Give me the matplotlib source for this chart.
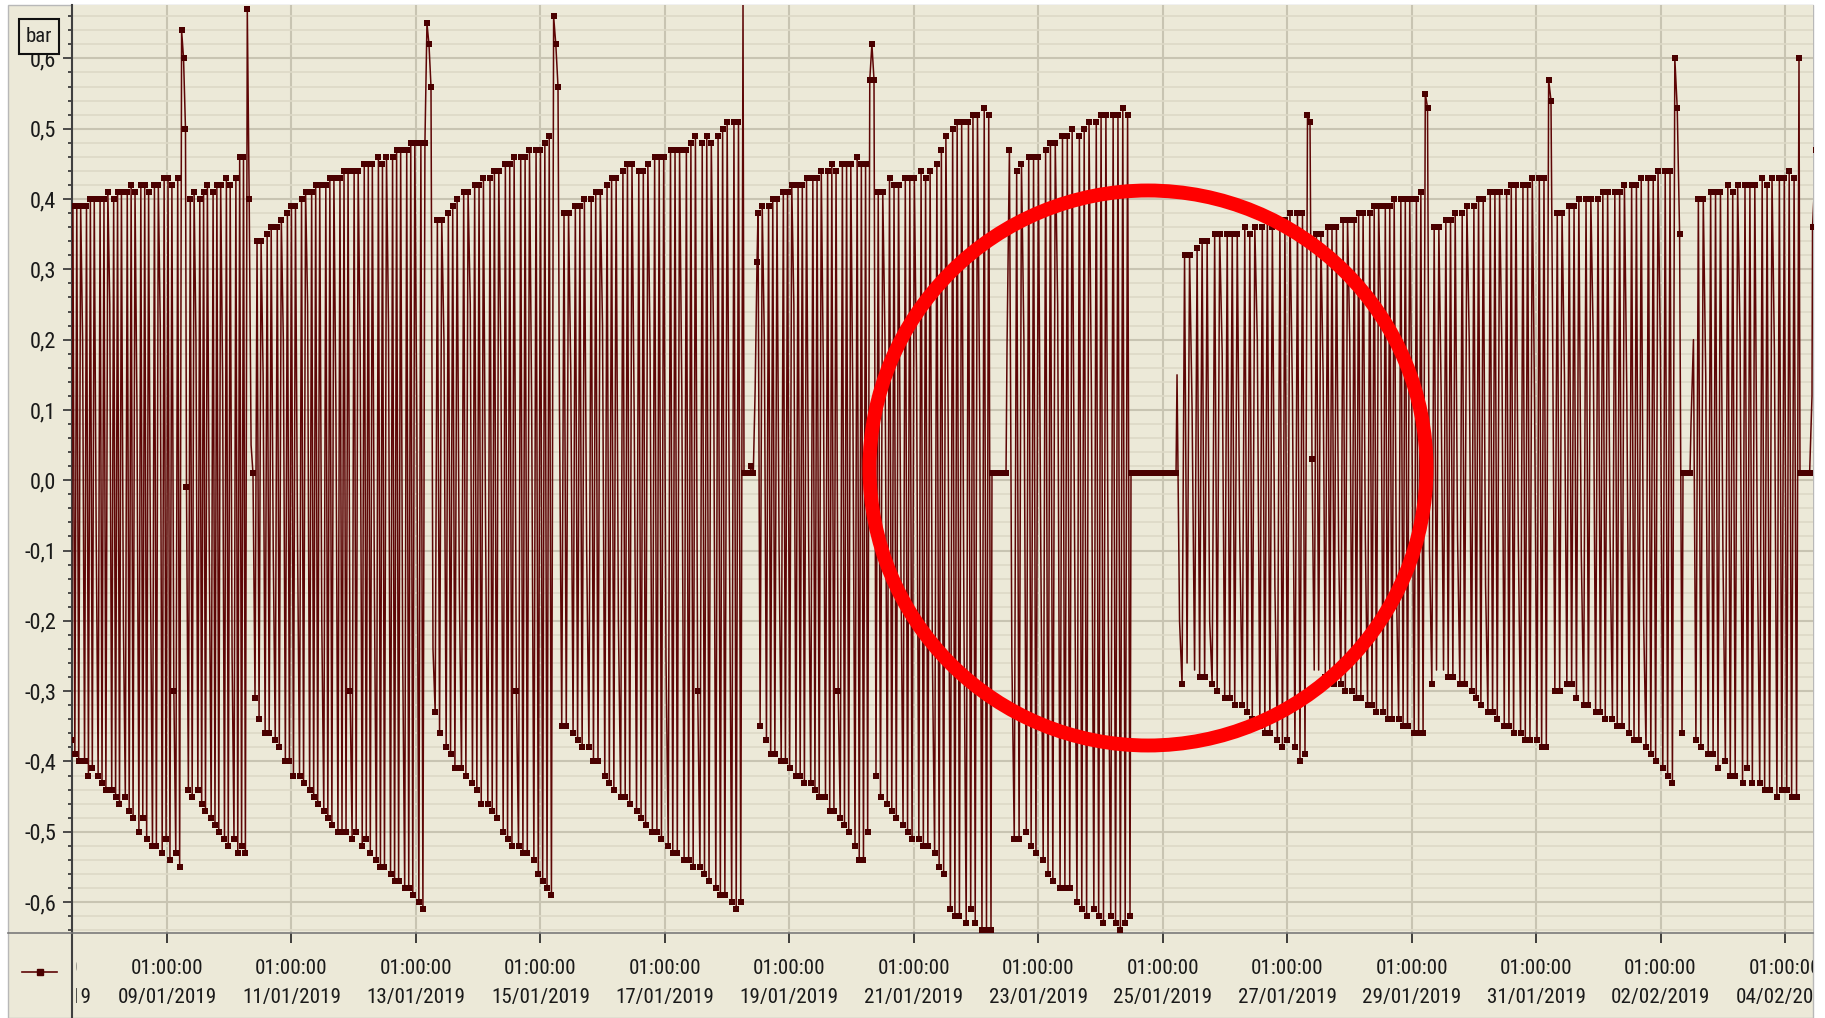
import os
import matplotlib
matplotlib.use('Agg')
import matplotlib.pyplot as plt
import matplotlib.dates as mdates
import matplotlib.font_manager as fm
from matplotlib.patches import Ellipse, Rectangle
from matplotlib.lines import Line2D
from matplotlib.textpath import TextPath
from matplotlib.ticker import MultipleLocator, FuncFormatter
from matplotlib.transforms import Bbox, TransformedBbox, blended_transform_factory
import numpy as np
import pandas as pd

# Pressure readings in 1/100 bar, one list per pump run / standstill (time order)
seg_a = [-37, 39, -39, 39, -40, 39, 20, -40, 39, -42, 40, -41, 40, -8, -42, 40, -43, 40, -44, 41, 25, -44,
         40, -45, 41, -46, 41, -20, -45, 41, -47, 42, -48, 41, 10, -50, 42, -48, 42, -51, 41, -15, -52, 42,
         -52, 42, 22, -53, 43, -51, 43, -54, 42, -30, -53, 43, -55, 64, 60, 50]
seg_b = [-1, -44, 40, -45, 41, 20, -44, 40, -46, 41, -47, 42, -10, -48, 41, -49, 42, -50, 42, 15, -51, 43,
         -52, 42, -25, -51, 43, -53, 46, -52, 46, -53, 67, 40, 5, 1]
seg_c = [-31, 34, -34, 34, 15, -36, 35, -36, 36, -10, -37, 36, -38, 37, 20, -40, 38, -40, 39, -42, 39, -8,
         -42, 40, -43, 41, 25, -44, 41, -45, 42, -46, 42, -20, -47, 42, -48, 43, -49, 43, 10, -50, 43, -50,
         44, -50, 44, -30, -51, 44, -50, 44, 18, -52, 45, -51, 45, -53, 45, -15, -54, 46, -55, 45, -55, 46,
         22, -56, 46, -57, 47, -57, 47, -25, -58, 47, -58, 48, -59, 48, 8, -60, 48, -61, 48, 65, 62, 56]
seg_d = [-24, -33, 37, -36, 37, 20, -38, 38, -39, 39, -41, 40, -15, -41, 41, -42, 41, 25, -43, 42, -44, 42,
         -46, 43, -8, -46, 43, -47, 44, -48, 44, 15, -50, 45, -51, 45, -52, 46, -30, -52, 46, -53, 46, -53,
         47, 10, -54, 47, -56, 47, -57, 48, -58, 49, -59, 66, 62, 56]
seg_e = [10, -35, 38, -35, 38, 15, -36, 39, -37, 39, -38, 40, -10, -38, 40, -40, 41, -40, 41, 22, -42, 42,
         -43, 43, -44, 43, -20, -45, 44, -45, 45, -46, 45, 8, -47, 44, -48, 44, -49, 45, 18, -50, 46, -50,
         46, -51, 46, -25, -52, 47, -53, 47, -53, 47, 12, -54, 47, -54, 48, -55, 49, -30, -55, 48, -56, 49,
         -57, 48, 20, -58, 49, -59, 50, -59, 51, -8, -60, 51, -61, 51, -60, 68]
plateau_1 = [1, 1, 1, 1, 2, 1, 13, 31]
seg_f = [38, -35, 39, 20, -37, 39, -39, 40, -39, 40, -10, -40, 41, -40, 41, -41, 42, 25, -42, 42, -42, 42,
         -43, 43, -8, -43, 43, -44, 43, -45, 44, 15, -45, 44, -47, 45, -47, 44, -30, -48, 45, -49, 45, -50,
         45, 10, -52, 46, -54, 45, -54, 45, -50, 57, 62, 57]
seg_g = [-42, 41, -45, 41, 20, -46, 43, -47, 42, -48, 42, -10, -49, 43, -50, 43, -51, 43, 15, -51, 44, -52,
         43, -52, 44, -25, -53, 45, -55, 47, -56, 49, 8, -61, 50, -62, 51, -62, 51, -20, -63, 51, -61, 52,
         -63, 52, 10, -64, 53, -64, 52, -64]
plateau_2 = [1, 1, 1, 1, 1, 1, 1, 1]
seg_h = [19, 47, -25, -51, 44, -51, 45, 20, -50, 46, -52, 46, -53, 46, -10, -54, 47, -56, 48, -57, 48, 25,
         -58, 49, -58, 49, -58, 50, -8, -60, 49, -61, 50, -62, 51, 12, -61, 51, -62, 52, -63, 52, -20, -62,
         52, -63, 52, -64, 53, -63, 52, -62]
plateau_3 = [1, 1, 1, 1, 1, 1, 1, 1, 1, 1, 1, 1, 1, 1, 1, 1, 1, 1]
seg_i = [15, -20, -29, 32, -26, 32, 10, -27, 33, -28, 34, -28, 34, -20, -29, 35, -30, 35, 18, -31, 35, -31,
         35, -32, 35, -8, -32, 36, -33, 35, -34, 36, 20, -35, 36, -36, 37, -36, 36, -15, -37, 37, -38, 37,
         -37, 38, 12, -38, 38, -40, 38, -39, 52, 51]
seg_j = [3, -27, 35, -27, 35, 15, -28, 36, -28, 36, -29, 36, -10, -29, 37, -30, 37, 20, -30, 37, -31, 38,
         -31, 38, -8, -32, 38, -32, 39, -33, 39, 22, -33, 39, -34, 39, -34, 40, -15, -34, 40, -35, 40, -35,
         40, 8, -36, 40, -36, 41, -36, 55, 53]
seg_k = [-10, -29, 36, -27, 36, 12, -27, 37, -28, 37, -28, 38, -8, -29, 38, -29, 39, 20, -30, 39, -31, 40,
         -32, 40, -15, -33, 41, -33, 41, -34, 41, 18, -35, 41, -35, 42, -36, 42, -8, -36, 42, -37, 42, -37,
         43, 10, -37, 43, -38, 43, -38, 57, 54]
seg_l = [25, -30, 38, -30, 38, 15, -29, 39, -29, 39, -31, 40, -10, -32, 40, -32, 40, 20, -33, 40, -33, 41,
         -34, 41, -8, -34, 41, -35, 41, -35, 42, 12, -36, 42, -37, 42, -37, 43, -20, -38, 43, -39, 43, -40,
         44, 18, -41, 44, -42, 44, -43, 60, 53, 35, -36]
plateau_4 = [1, 1, 1, 1]
seg_m = [8, 20, -37, 40, -38, 40, 15, -39, 41, -39, 41, -41, 41, -10, -40, 42, -42, 41, -42, 42, 20, -43,
         42, -41, 42, -43, 42, -8, -43, 43, -44, 42, -44, 43, 18, -45, 43, -44, 43, -44, 44, -45, 43, -45, 60]
plateau_5 = [1, 1, 1, 1, 1, 12]
seg_n = [36, 47, 47]

seg_starts = ['2019-01-07 11:58', '2019-01-09 08:31', '2019-01-10 10:57', '2019-01-13 07:35',
              '2019-01-15 08:22', '2019-01-18 07:32', '2019-01-18 12:56', '2019-01-20 10:26',
              '2019-01-22 07:10', '2019-01-22 12:58', '2019-01-24 12:47', '2019-01-25 06:32',
              '2019-01-27 10:35', '2019-01-29 07:54', '2019-01-31 07:19', '2019-02-02 09:40',
              '2019-02-02 12:45', '2019-02-04 06:47', '2019-02-04 11:37']
seg_ends = ['2019-01-09 08:08', '2019-01-10 10:10', '2019-01-13 06:49', '2019-01-15 07:48',
            '2019-01-18 07:09', '2019-01-18 12:33', '2019-01-20 09:40', '2019-01-22 06:47',
            '2019-01-22 12:35', '2019-01-24 12:24', '2019-01-25 06:09', '2019-01-27 09:49',
            '2019-01-29 07:08', '2019-01-31 06:45', '2019-02-02 09:17', '2019-02-02 12:22',
            '2019-02-04 06:24', '2019-02-04 11:25', '2019-02-04 14:24']

tick_dates = pd.date_range('2019-01-07 01:00', '2019-02-04 01:00', freq='2D')
x_range = ['2019-01-07 12:22', '2019-02-04 11:48']

BG = '#ECE9D8'
GRID = '#C8C4B2'
GRID_MINOR = '#DDD9C7'
LINE = '#5E0606'
MARK = '#4A0000'
TEXT = '#1A1A1A'


def pick_narrow_font():
    # the screenshot uses a narrow sans; take the closest one installed
    prefs = ['LiberationSansNarrow-Regular', 'ArialNarrow', 'arialn.', 'NotoSans-Condensed.',
             'RobotoCondensed-Regular', 'OpenSans_Condensed-Regular', 'OpenSans-CondensedRegular',
             'NotoSans-SemiCondensed.', 'DejaVuSansCondensed.', 'NotoSans-ExtraCondensed.']
    files = [f.fname for f in fm.fontManager.ttflist]
    for p in prefs:
        for fn in files:
            if p in os.path.basename(fn):
                return fm.FontProperties(fname=fn)
    return fm.FontProperties(family='Liberation Sans')


def fit_size(fp, sample, width_px, height_px):
    # size so that the ink box of the sample is close to what the screenshot shows
    ext = TextPath((0, 0), sample, size=10, prop=fp).get_extents()
    h0 = TextPath((0, 0), '0', size=10, prop=fp).get_extents().height
    size_w = 10 * width_px / (ext.width * 100 / 72)
    size_h = 10 * height_px / (h0 * 100 / 72)
    return size_w ** 0.6 * size_h ** 0.4


base_fp = pick_narrow_font()
fp_x = base_fp.copy()
fp_x.set_size(fit_size(base_fp, '09/01/2019', 88, 17.5))
fp_y = base_fp.copy()
fp_y.set_size(fit_size(base_fp, '-0,4', 31, 16))
fp_unit = base_fp.copy()
fp_unit.set_size(fit_size(base_fp, 'bar', 25, 15))

segments = [seg_a, seg_b, seg_c, seg_d, seg_e, plateau_1, seg_f, seg_g, plateau_2, seg_h, plateau_3,
            seg_i, seg_j, seg_k, seg_l, plateau_4, seg_m, plateau_5, seg_n]
t_parts, v_parts = [], []
for vals, t0, t1 in zip(segments, seg_starts, seg_ends):
    t_parts.append(mdates.date2num(pd.date_range(t0, t1, periods=len(vals)).values))
    v_parts.append(np.array(vals) / 100.0)
t = np.concatenate(t_parts)
v = np.concatenate(v_parts)

# markers sit on the swing extremes and on the standstill line, transit samples show as line only
marked = (np.abs(v) >= 0.28) | (np.abs(v) <= 0.03)

W, H = 1825, 1018
fig = plt.figure(figsize=(W / 100, H / 100), dpi=100, facecolor='white')

# panel behind everything
fig.add_artist(Rectangle((8 / W, 0), (1813 - 8) / W, (H - 5) / H, transform=fig.transFigure,
                         facecolor=BG, edgecolor='#B8B8B8', lw=1, zorder=-1))

ax = fig.add_axes([72 / W, 1 - 933 / H, (1813 - 72) / W, (933 - 5) / H])
ax.set_facecolor(BG)
ax.plot(t, v, color=LINE, lw=1.1, marker='s', ms=3.8, mfc=MARK, mec=MARK, mew=0,
        markevery=list(marked), zorder=3)

ax.set_xticks(mdates.date2num(tick_dates.values))
ax.yaxis.set_major_locator(MultipleLocator(0.1))
ax.yaxis.set_minor_locator(MultipleLocator(0.02))
ax.yaxis.set_major_formatter(FuncFormatter(lambda y, p: ('%.1f' % y).replace('.', ',').replace('-0,0', '0,0')))
# limits after the ticks, set_xticks would widen the view otherwise
ax.set_xlim(mdates.date2num(pd.Timestamp(x_range[0])), mdates.date2num(pd.Timestamp(x_range[1])))
ax.set_ylim(-0.644, 0.676)

ax.grid(which='major', color=GRID, lw=1.5)
ax.grid(which='minor', axis='y', color=GRID_MINOR, lw=1.2)
ax.set_axisbelow(True)

for side in ['top', 'right']:
    ax.spines[side].set_visible(False)
ax.spines['left'].set_color('#404040')
ax.spines['left'].set_linewidth(1.5)
ax.spines['bottom'].set_color('#7A7A7A')
ax.spines['bottom'].set_linewidth(1.2)

ax.tick_params(axis='y', which='major', direction='out', length=6.5, width=1.2, color='#303030',
               pad=5, labelcolor=TEXT)
ax.tick_params(axis='y', which='minor', direction='out', length=3, width=1.2, color='#303030')
ax.tick_params(axis='x', which='major', direction='out', length=7, width=1.2, color='#202020',
               labelbottom=False)
for lbl in ax.get_yticklabels():
    lbl.set_fontproperties(fp_y)

# axis lines continuing into the label strip
fig.add_artist(Line2D([72 / W, 72 / W], [0, 1 - 933 / H], color='#404040', lw=1.5))
fig.add_artist(Line2D([8 / W, 72 / W], [1 - 933 / H] * 2, color='#7A7A7A', lw=1.2))

# two-line date labels, clipped to the plot width like the original
trans = blended_transform_factory(ax.transData, fig.transFigure)
clip = TransformedBbox(Bbox([[76 / W, 0], [1813 / W, 1]]), fig.transFigure)
for d in tick_dates:
    x = mdates.date2num(d)
    for s, yy in ((d.strftime('%H:%M:%S'), 969), (d.strftime('%d/%m/%Y'), 997)):
        txt = fig.text(x, 1 - yy / H, s, transform=trans, ha='center', va='center',
                       fontproperties=fp_x, color=TEXT)
        txt.set_clip_box(clip)
        txt.set_clip_on(True)

# series symbol in the legend corner
fig.add_artist(Line2D([22 / W, 57 / W], [1 - 972 / H] * 2, color=LINE, lw=1.2))
fig.add_artist(Line2D([40 / W], [1 - 972 / H], marker='s', ms=4, color=MARK, lw=0))

# unit box
fig.add_artist(Rectangle((19 / W, 1 - 54 / H), 40 / W, 35 / H, transform=fig.transFigure,
                         facecolor=BG, edgecolor='#101010', lw=1.5, zorder=5))
fig.text(39 / W, 1 - 37 / H, 'bar', ha='center', va='center', fontproperties=fp_unit, color=TEXT, zorder=6)

# red highlight circle
fig.add_artist(Ellipse((1148 / W, 1 - 468 / H), 557 / W, 555 / H, transform=fig.transFigure,
                       fill=False, edgecolor='#FF0000', lw=10, zorder=10))

fig.savefig('out.png', dpi=100, facecolor=fig.get_facecolor())
